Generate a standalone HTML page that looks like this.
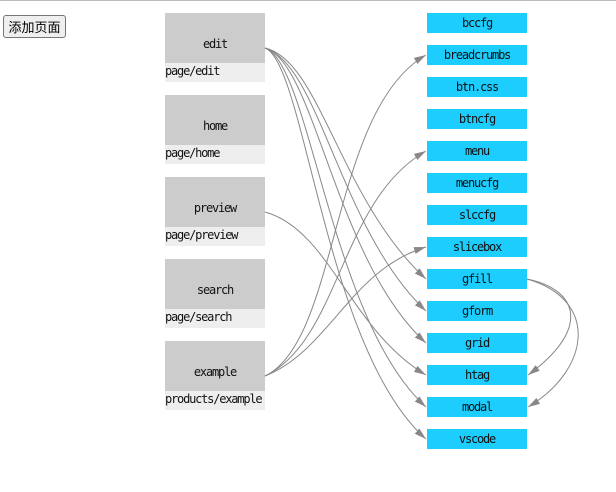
<!DOCTYPE html>
<html><head><meta charset="utf-8"><style>
body{margin:0;width:616px;height:492px;background:#fff;position:relative;overflow:hidden;font-family:"DejaVu Sans Mono","Liberation Mono",monospace;}
.top{position:absolute;left:0;top:0;width:616px;height:1px;background:#bbb}
button{position:absolute;left:3px;top:15px;width:63px;height:23px;font:13px "Liberation Sans","Noto Sans CJK SC",sans-serif;background:#efefef;border:1px solid #767676;border-radius:3px;padding:0}
.p{position:absolute;left:165px;width:100px}
.p .b{height:50px;background:#ccc;font-size:12px;letter-spacing:-1.2px;text-align:center;line-height:62px;color:#111}
.p .l{height:19px;background:#eee;font-size:12px;letter-spacing:-1.2px;line-height:17px;color:#111;white-space:nowrap}
.r{position:absolute;left:427px;width:100px;height:20px;background:#1ccdfd;font-size:12px;letter-spacing:-1.2px;text-align:center;line-height:20px;color:#111}
svg{position:absolute;left:0;top:0}
</style></head><body>
<div class="top"></div>
<button>添加页面</button>
<div class="p" style="top:13px"><div class="b">edit</div><div class="l">page/edit</div></div>
<div class="p" style="top:95px"><div class="b">home</div><div class="l">page/home</div></div>
<div class="p" style="top:177px"><div class="b">preview</div><div class="l">page/preview</div></div>
<div class="p" style="top:259px"><div class="b">search</div><div class="l">page/search</div></div>
<div class="p" style="top:341px"><div class="b">example</div><div class="l">products/example</div></div>
<div class="r" style="top:13px">bccfg</div>
<div class="r" style="top:45px">breadcrumbs</div>
<div class="r" style="top:77px">btn.css</div>
<div class="r" style="top:109px">btncfg</div>
<div class="r" style="top:141px">menu</div>
<div class="r" style="top:173px">menucfg</div>
<div class="r" style="top:205px">slccfg</div>
<div class="r" style="top:237px">slicebox</div>
<div class="r" style="top:269px">gfill</div>
<div class="r" style="top:301px">gform</div>
<div class="r" style="top:333px">grid</div>
<div class="r" style="top:365px">htag</div>
<div class="r" style="top:397px">modal</div>
<div class="r" style="top:429px">vscode</div>
<svg width="616" height="492">
<defs><marker id="a" viewBox="0 0 12 8" refX="12" refY="4" markerWidth="12" markerHeight="8" markerUnits="userSpaceOnUse" orient="auto"><path d="M0,0.5L12,4L0,7.5z" fill="#888"/></marker></defs>
<g fill="none" stroke="#888" stroke-width="1" marker-end="url(#a)">
<path d="M265,48C320,60 340,200 426,279"/>
<path d="M265,48C320,65 340,230 426,311"/>
<path d="M265,48C315,62 335,260 426,343"/>
<path d="M265,48C310,62 330,320 426,407"/>
<path d="M265,48C305,62 325,350 426,439"/>
<path d="M265,212C330,230 350,330 426,375"/>
<path d="M265,376C340,340 330,110 426,55"/>
<path d="M265,376C340,340 340,200 426,151"/>
<path d="M265,376C330,350 350,270 426,247"/>
<path d="M527,279C580,290 590,330 528,375"/>
<path d="M527,279C600,300 590,370 528,407"/>
</g>
</svg>
</body></html>
